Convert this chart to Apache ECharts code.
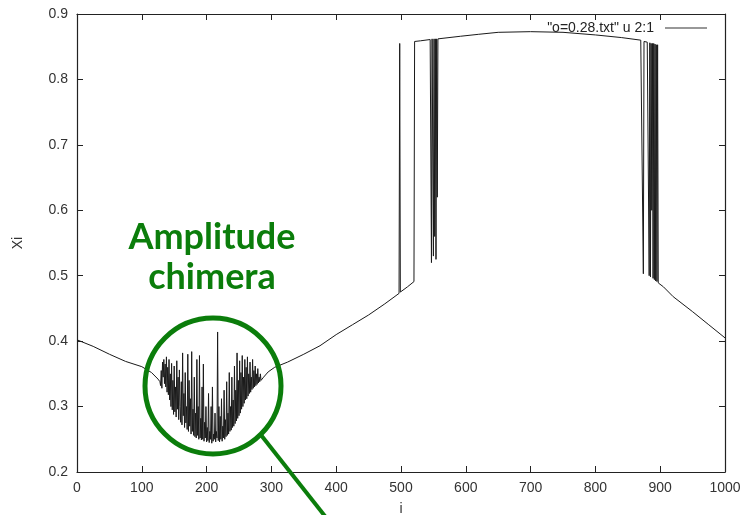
<!DOCTYPE html>
<html><head><meta charset="utf-8">
<script src="https://cdn.jsdelivr.net/npm/echarts@6/dist/echarts.min.js"></script>
<style>html,body{margin:0;padding:0;background:#fff}#c{width:742px;height:515px}</style>
</head><body><div id="c"></div>
<script>
// smooth left part
const leftX = [0,25,50,75,100,115,125];
const leftY = [0.402,0.392,0.380,0.369,0.361,0.352,0.342];
// amplitude chimera region: one value per oscillator i = chaosStart, chaosStart+1, ...
const chaosStart = 128;
const chaosY = [
  0.338,0.332,0.355,0.328,0.368,0.345,0.372,0.335,0.365,0.330,0.376,0.322,0.360,
  0.318,0.372,0.310,0.350,0.300,0.366,0.295,0.340,0.288,0.362,0.292,0.330,0.284,0.370,0.296,0.345,0.280,0.356,0.300,0.276,
  0.338,0.272,0.382,0.286,0.320,0.268,0.352,0.275,0.300,0.265,0.380,0.262,0.340,0.270,0.312,0.258,0.384,0.262,0.296,0.256,
  0.345,0.254,0.290,0.252,0.372,0.256,0.300,0.250,0.378,0.252,0.282,0.249,0.330,0.250,0.365,0.247,0.276,0.252,0.300,0.246,
  0.268,0.248,0.320,0.245,0.262,0.250,0.300,0.244,0.330,0.247,0.258,0.250,0.290,0.246,0.262,0.252,0.414,0.248,0.300,0.246,
  0.285,0.250,0.312,0.247,0.270,0.252,0.325,0.250,0.280,0.254,0.338,0.256,0.290,0.258,0.352,0.262,0.300,0.264,0.345,0.268,
  0.310,0.270,0.362,0.274,0.325,0.278,0.382,0.282,0.340,0.286,0.370,0.290,0.352,0.296,0.378,0.300,0.345,0.305,0.372,0.310,
  0.360,0.312,0.376,0.316,0.350,0.320,0.368,0.322,0.345,0.326,0.372,0.328,0.355,0.330,0.362,0.332,0.350,0.334,0.358,0.336,0.345,0.338,0.350,0.340
];
// rising branch
const riseX = [288,295,305,325,350,375,400,425,450,475,497,498,499,500,510,520];
const riseY = [0.345,0.353,0.360,0.368,0.380,0.393,0.410,0.425,0.440,0.457,0.473,0.855,0.475,0.476,0.483,0.491];
// upper plateau
const topX = [521,530,545,546,547,548,549,550,551,552,553,554,555,556,557,560,592,620,650,700,750,800,840,870,872];
const topY = [0.858,0.859,0.861,0.861,0.520,0.862,0.862,0.530,0.862,0.560,0.862,0.525,0.862,0.620,0.862,0.863,0.866,0.869,0.872,0.873,0.872,0.868,0.864,0.860,0.859];
// right jumps
const jumpX = [874,875,876,878,880,882,883,884,885,886,887,888,889,890,891,892,893,894,895,896,897,898];
const jumpY = [0.503,0.858,0.858,0.857,0.857,0.856,0.500,0.856,0.498,0.855,0.600,0.855,0.496,0.855,0.494,0.854,0.492,0.853,0.491,0.853,0.489,0.488];
// falling branch
const fallX = [905,920,950,975,1000];
const fallY = [0.483,0.468,0.445,0.425,0.405];

const xTicks = [0,100,200,300,400,500,600,700,800,900,1000];
const yTicks = [0.2,0.3,0.4,0.5,0.6,0.7,0.8,0.9];
const seriesName = '"o=0.28.txt" u 2:1';

const chaosX = chaosY.map((_, k) => chaosStart + k);
const xsAll = [].concat(leftX, chaosX, riseX, topX, jumpX, fallX);
const ysAll = [].concat(leftY, chaosY, riseY, topY, jumpY, fallY);
const pts = xsAll.map((x, k) => [x, ysAll[k]]);

const chart = echarts.init(document.getElementById('c'), null, {renderer: 'canvas'});
const font = 'Liberation Sans, Arial, sans-serif';
function line() { return {show: true, onZero: false, lineStyle: {color: '#222', width: 1.2}}; }
function tick() { return {show: true, inside: true, length: 6, lineStyle: {color: '#222', width: 1}}; }
chart.setOption({
  animation: false,
  backgroundColor: '#fff',
  grid: {left: 77, right: 17, top: 14, bottom: 43, containLabel: false, outerBoundsMode: 'none'},
  legend: {
    data: [seriesName], right: 30, top: 16, align: 'right',
    icon: 'rect', itemWidth: 42, itemHeight: 1.2, itemGap: 10,
    itemStyle: {color: '#333'},
    textStyle: {fontFamily: font, fontSize: 14, color: '#222', padding: [0, 6, 0, 0]}
  },
  xAxis: [
    {type: 'value', min: 0, max: 1000, interval: 100, position: 'bottom',
      name: 'i', nameLocation: 'middle', nameGap: 30,
      nameTextStyle: {fontFamily: font, fontSize: 14, color: '#333'},
      axisLine: line(), axisTick: tick(), splitLine: {show: false},
      axisLabel: {fontFamily: font, fontSize: 14, color: '#333', margin: 9,
        formatter: v => xTicks.includes(v) ? String(v) : ''}},
    {type: 'value', min: 0, max: 1000, interval: 100, position: 'top',
      axisLine: line(), axisTick: tick(), splitLine: {show: false}, axisLabel: {show: false}}
  ],
  yAxis: [
    {type: 'value', min: 0.2, max: 0.9, interval: 0.1, position: 'left',
      name: 'Xi', nameLocation: 'middle', nameGap: 52, nameRotate: 90,
      nameTextStyle: {fontFamily: font, fontSize: 14, color: '#333'},
      axisLine: line(), axisTick: tick(), splitLine: {show: false},
      axisLabel: {fontFamily: font, fontSize: 14, color: '#333', margin: 9,
        formatter: v => { const r = Math.round(v * 10) / 10; return yTicks.includes(r) ? r.toFixed(1) : ''; }}},
    {type: 'value', min: 0.2, max: 0.9, interval: 0.1, position: 'right',
      axisLine: line(), axisTick: tick(), splitLine: {show: false}, axisLabel: {show: false}}
  ],
  series: [{
    name: seriesName, type: 'line', data: pts, showSymbol: false, symbol: 'none',
    lineStyle: {color: '#1a1a1a', width: 1}, itemStyle: {color: '#333'}
  }],
  graphic: [
    {type: 'circle', shape: {cx: 213, cy: 386, r: 68}, style: {fill: 'none', stroke: '#0b7d0b', lineWidth: 5}, z: 100},
    {type: 'line', shape: {x1: 261, y1: 435, x2: 328, y2: 520}, style: {stroke: '#0b7d0b', lineWidth: 4}, z: 100},
    {type: 'text', x: 212, y: 237, style: {text: 'Amplitude', fill: '#0b7d0b', font: 'bold 36px Lato, "Open Sans", sans-serif', textAlign: 'center', textVerticalAlign: 'middle'}, z: 100},
    {type: 'text', x: 212, y: 277, style: {text: 'chimera', fill: '#0b7d0b', font: 'bold 36px Lato, "Open Sans", sans-serif', textAlign: 'center', textVerticalAlign: 'middle'}, z: 100}
  ]
});
</script></body></html>
